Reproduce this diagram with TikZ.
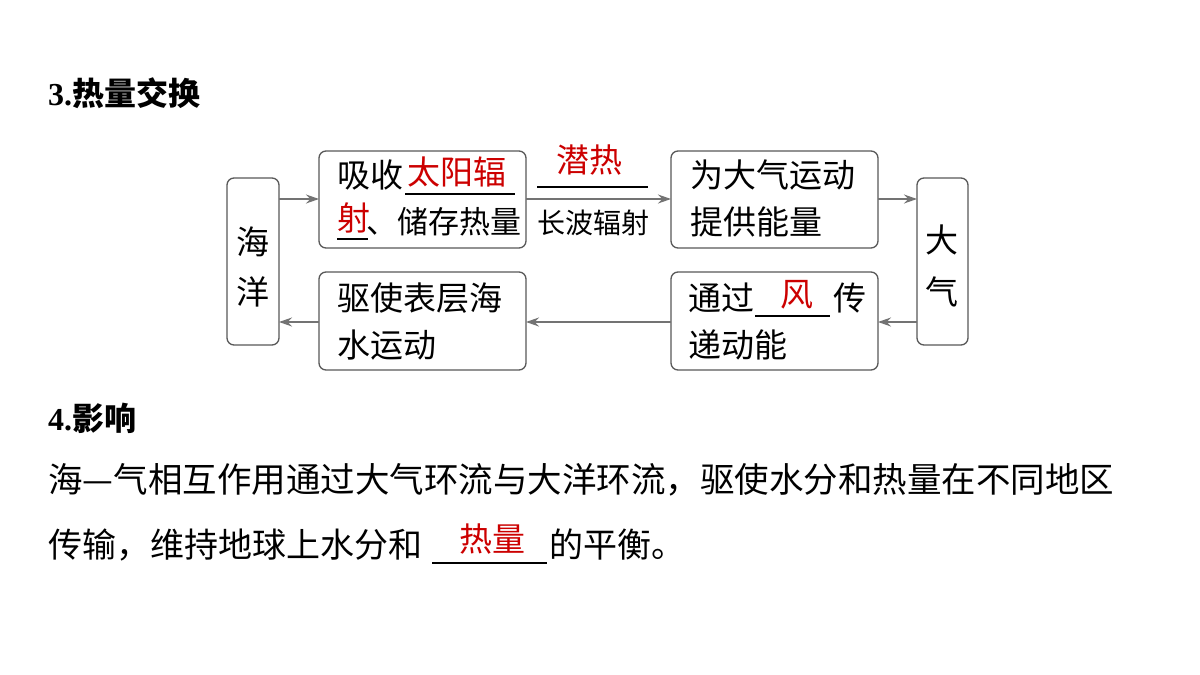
\documentclass[tikz,border=0pt]{standalone}
\usepackage{fontspec}
\setmainfont{Liberation Serif}
\newfontfamily\cjk{Noto Sans CJK SC}
\usetikzlibrary{arrows.meta}
\begin{document}
\begin{tikzpicture}[x=1pt,y=-1pt,
  box/.style={draw=black!65,line width=1.3pt,rounded corners=7pt},
  arr/.style={draw=black!55,line width=1.2pt,-{Stealth[length=13pt,width=9pt]}},
  t/.style={inner sep=0pt,anchor=west,font=\cjk\fontsize{33}{34}\selectfont},
  r/.style={t,text=red!80!black},
  ul/.style={draw=black,line width=1.1pt}]
\useasboundingbox (0,0) rectangle (1200,675);
\fill[white] (0,0) rectangle (1200,675);
% boxes
\draw[box] (227,178) rectangle (279,345);
\draw[box] (319,151) rectangle (526,248);
\draw[box] (671,151) rectangle (878,248);
\draw[box] (917,178) rectangle (968,345);
\draw[box] (671,272) rectangle (878,370);
\draw[box] (319,272) rectangle (526,370);
\coordinate (a1) at (279,199); \coordinate (b1) at (319,199);
\coordinate (a2) at (526,199); \coordinate (b2) at (671,199);
\coordinate (a3) at (878,199); \coordinate (b3) at (917,199);
\coordinate (a4) at (917,322); \coordinate (b4) at (878,322);
\coordinate (a5) at (671,322); \coordinate (b5) at (526,322);
\coordinate (a6) at (319,322); \coordinate (b6) at (279,322);
\foreach \i in {1,...,6} \draw[arr] (a\i) -- (b\i);
% ocean/atm
\node[t,anchor=center] (h1) at (253,242) {海};
\node[t,anchor=center] (h2) at (253,292) {洋};
\node[t,anchor=center] (d1) at (942,240) {大};
\node[t,anchor=center] (d2) at (942,292) {气};
% box1
\node[t] (p1) at (337,175) {吸收};
\node[r] (p2) at (407,172) {太阳辐};
\draw[ul] (405,194) -- (515,194);
\node[r] (p3) at (337,218) {射};
\draw[ul] (337,239) -- (368,239);
\node[t,font=\cjk\fontsize{31}{32}\selectfont] (p4) at (366,222) {、储存热量};
% arrow labels
\node[r] (q1) at (556,160) {潜热};
\draw[ul] (537,187) -- (648,187);
\node[t,font=\cjk\fontsize{28}{29}\selectfont] (q2) at (537,223) {长波辐射};
% box2
\node[t] (s1) at (690,175) {为大气运动};
\node[t] (s2) at (690,222) {提供能量};
% box3
\node[t] (u1) at (688,298) {通过};
\node[r] (u2) at (780,295) {风};
\draw[ul] (755,316) -- (830,316);
\node[t] (u3) at (833,298) {传};
\node[t] (u4) at (688,345) {递动能};
% box4
\node[t] (v1) at (337,298) {驱使表层海};
\node[t] (v2) at (337,345) {水运动};
% text
\node[t,font=\cjk\bfseries\fontsize{32}{33}\selectfont] (ti1) at (48,93) {{\rmfamily\bfseries 3.}热量交换};
\node[t,font=\cjk\bfseries\fontsize{32}{33}\selectfont] (ti2) at (48,418) {{\rmfamily\bfseries 4.}影响};
\node[t,font=\cjk\fontsize{34.5}{35}\selectfont] (l1) at (48,480) {海—气相互作用通过大气环流与大洋环流，驱使水分和热量在不同地区};
\node[t,font=\cjk\fontsize{34}{35}\selectfont] (l2) at (48,545) {传输，维持地球上水分和};
\node[r] (l3) at (459,539) {热量};
\draw[ul] (432,563) -- (547,563);
\node[t,font=\cjk\fontsize{34}{35}\selectfont] (l4) at (549,545) {的平衡。};
\end{tikzpicture}
\end{document}
